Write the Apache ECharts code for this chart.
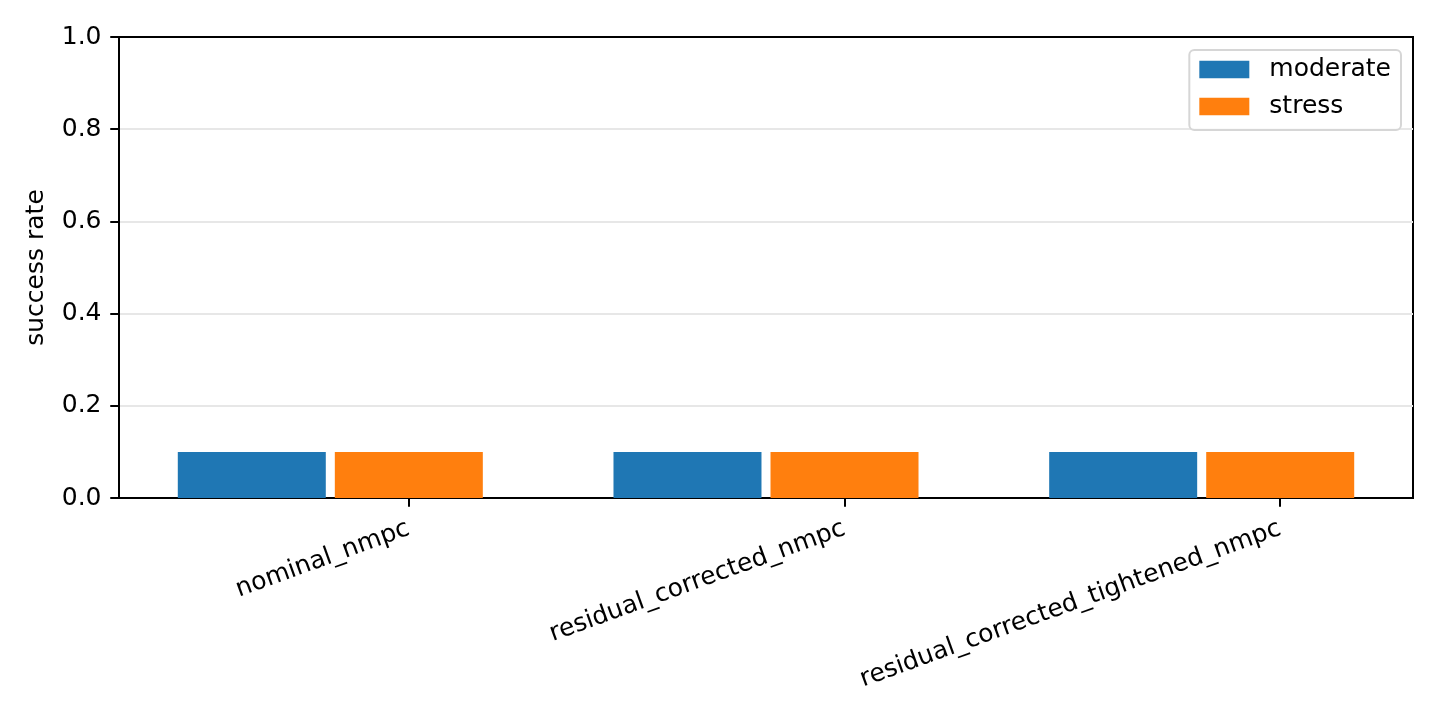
<!DOCTYPE html>
<html>
<head>
<meta charset="utf-8">
<title>success rate</title>
<script src="https://cdn.jsdelivr.net/npm/echarts@6.0.0/dist/echarts.min.js"></script>
<style>
html, body { margin: 0; padding: 0; background: #fff; }
#chart { width: 1440px; height: 720px; }
</style>
</head>
<body>
<div id="chart"></div>
<script>
// data
var categories = ['nominal_nmpc', 'residual_corrected_nmpc', 'residual_corrected_tightened_nmpc'];
var seriesNames = ['moderate', 'stress'];
var moderate = [0.1, 0.1, 0.1];
var stress = [0.1, 0.1, 0.1];
var tickPositions = categories.map(function (c, i) { return i; });

var font = 'DejaVu Sans';
var myChart = echarts.init(document.getElementById('chart'), null, { renderer: 'canvas' });

function toPoints(values) {
    return values.map(function (v, i) { return [i, v]; });
}

myChart.setOption({
    animation: false,
    backgroundColor: '#fff',
    textStyle: { fontFamily: font },
    grid: {
        left: 119, right: 27, top: 37, bottom: 222,
        show: true,
        borderColor: '#000',
        borderWidth: 2
    },
    legend: {
        data: seriesNames,
        orient: 'vertical',
        right: 39,
        top: 50,
        itemWidth: 50,
        itemHeight: 17.5,
        itemGap: 8,
        padding: [5, 10, 9, 10],
        borderColor: '#d6d6d6',
        borderWidth: 2,
        borderRadius: 5,
        backgroundColor: 'rgba(255,255,255,0.8)',
        icon: 'rect',
        textStyle: { fontFamily: font, fontSize: 25, color: '#000', lineHeight: 29, padding: [0, 0, 0, 15] }
    },
    xAxis: [{
        // axis that carries the ticks and labels (tick at each category)
        type: 'value',
        min: -0.665,
        max: 2.305,
        splitLine: { show: false },
        axisLine: { onZero: false, lineStyle: { color: '#000', width: 2 } },
        axisTick: { customValues: tickPositions, length: 8.75, lineStyle: { color: '#000', width: 2 } },
        axisLabel: {
            customValues: tickPositions,
            rotate: 20,
            margin: 30,
            fontFamily: font,
            fontSize: 25,
            color: '#000',
            formatter: function (v) { return categories[Math.round(v)]; }
        }
    }, {
        // hidden axis for the bars: pair sits left of the tick like the source
        type: 'value',
        min: -0.485,
        max: 2.485,
        show: false
    }],
    yAxis: {
        type: 'value',
        min: 0,
        max: 1,
        interval: 0.2,
        name: 'success rate',
        nameLocation: 'middle',
        nameGap: 70,
        nameTextStyle: { fontFamily: font, fontSize: 25, color: '#000' },
        axisLine: { show: true, onZero: false, lineStyle: { color: '#000', width: 2 } },
        axisTick: { show: true, length: 8.75, lineStyle: { color: '#000', width: 2 } },
        axisLabel: {
            margin: 17.5,
            fontFamily: font,
            fontSize: 25,
            color: '#000',
            formatter: function (v) { return v.toFixed(1); }
        },
        splitLine: {
            show: true,
            showMinLine: false,
            showMaxLine: false,
            lineStyle: { color: '#e7e7e7', width: 2 }
        }
    },
    series: [{
        name: seriesNames[0],
        type: 'bar',
        xAxisIndex: 1,
        barWidth: 148,
        barGap: '6.1%',
        itemStyle: { color: '#1f77b4' },
        data: toPoints(moderate)
    }, {
        name: seriesNames[1],
        type: 'bar',
        xAxisIndex: 1,
        barWidth: 148,
        barGap: '6.1%',
        itemStyle: { color: '#ff7f0e' },
        data: toPoints(stress)
    }]
});
</script>
</body>
</html>
